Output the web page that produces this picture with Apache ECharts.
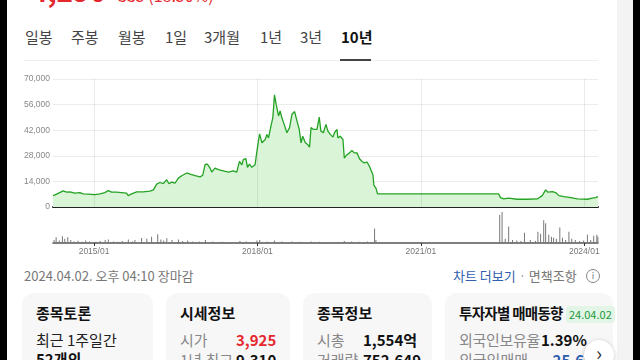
<!DOCTYPE html>
<html><head><meta charset="utf-8">
<script src="https://cdn.jsdelivr.net/npm/echarts@6/dist/echarts.min.js"></script>
<style>
html,body{margin:0;padding:0;width:640px;height:360px;overflow:hidden;background:#000;font-family:"Noto Sans CJK KR","Noto Sans",sans-serif;}
.abs{position:absolute;white-space:nowrap;}
#panel{position:absolute;left:7px;top:0;width:610px;height:360px;background:#fff;}
#strip{position:absolute;left:617px;top:0;width:16px;height:360px;background:#f3f3f3;}
.tab{position:absolute;top:27px;font-size:15px;line-height:20px;color:#444;}
.card{position:absolute;top:293px;height:90px;background:#f7f7f8;border-radius:12px;}
.ttl{font-size:15px;font-weight:700;color:#111;line-height:20px;}
.t{font-size:15px;line-height:20px;}
.g{color:#888;}
.b{font-weight:700;color:#111;}
#chart{position:absolute;left:0;top:0;width:640px;height:265px;}
</style></head>
<body>
<div id="panel"></div>
<div id="strip"></div>
<div class="abs" style="left:31px;top:-24px;font-size:28px;line-height:28px;font-weight:700;color:#e5282e;">4,290</div>
<div class="abs" style="left:118px;top:-15px;font-size:16px;line-height:20px;color:#e5282e;">335 (18.50%)</div>

<div class="tab" style="left:25px">일봉</div>
<div class="tab" style="left:71px">주봉</div>
<div class="tab" style="left:118px">월봉</div>
<div class="tab" style="left:165px">1일</div>
<div class="tab" style="left:204px">3개월</div>
<div class="tab" style="left:260px">1년</div>
<div class="tab" style="left:300px">3년</div>
<div class="tab" style="left:341px;color:#111;font-weight:700;">10년</div>
<div class="abs" style="left:24px;top:60px;width:574px;height:1px;background:#eeeeee;"></div>
<div class="abs" style="left:340px;top:59px;width:31px;height:2px;background:#444;"></div>

<div id="chart"></div>

<div class="abs" style="left:24px;top:267px;font-size:13px;line-height:18px;color:#777;">2024.04.02. 오후 04:10 장마감</div>
<div class="abs" style="left:453px;top:267px;font-size:13px;line-height:18px;color:#2f5fae;">차트 더보기 <span style="color:#999">·</span> <span style="color:#777">면책조항</span></div>
<div class="abs" style="left:586px;top:269px;width:12px;height:12px;border:1px solid #888;border-radius:50%;font-size:9px;line-height:12px;text-align:center;color:#777;">i</div>

<div class="card" style="left:22px;width:131px;"></div>
<div class="card" style="left:166px;width:124px;"></div>
<div class="card" style="left:303px;width:129px;"></div>
<div class="card" style="left:445px;width:168px;"></div>

<div class="abs ttl" style="left:36px;top:303px;">종목토론</div>
<div class="abs t" style="left:36px;top:330px;color:#222;">최근 1주일간</div>
<div class="abs t b" style="left:36px;top:349px;">52개의</div>

<div class="abs ttl" style="left:180px;top:303px;">시세정보</div>
<div class="abs t g" style="left:180px;top:330px;">시가</div>
<div class="abs t" style="left:236px;top:330px;font-weight:700;color:#e5282e;">3,925</div>
<div class="abs t g" style="left:180px;top:350px;">1년 최고</div>
<div class="abs t b" style="left:236px;top:350px;">9,310</div>

<div class="abs ttl" style="left:317px;top:303px;">종목정보</div>
<div class="abs t g" style="left:317px;top:330px;">시총</div>
<div class="abs t b" style="left:363px;top:330px;">1,554억</div>
<div class="abs t g" style="left:317px;top:350px;">거래량</div>
<div class="abs t b" style="left:363px;top:350px;">752,649</div>

<div class="abs ttl" style="left:459px;top:303px;font-size:14.5px;letter-spacing:-0.7px;">투자자별 매매동향</div>
<div class="abs" style="left:566px;top:306px;padding:0 3px;height:17px;font-size:11px;line-height:17px;color:#1b9a3a;background:#e3f5e6;border-radius:4px;">24.04.02</div>
<div class="abs t g" style="left:459px;top:330px;letter-spacing:-0.3px;">외국인보유율</div>
<div class="abs t b" style="left:541px;top:330px;">1.39%</div>
<div class="abs t g" style="left:459px;top:350px;">외국인매매</div>
<div class="abs t" style="left:547px;top:350px;font-weight:700;color:#2f5fae;">-25,661</div>
<div class="abs" style="left:584px;top:340px;width:30px;height:30px;border-radius:50%;background:#fff;box-shadow:0 1px 4px rgba(0,0,0,0.25);font-size:20px;line-height:26px;text-align:center;color:#333;">›</div>

<script>
const priceDates = [
'2014-04-01','2014-04-15','2014-06-08','2014-07-01','2014-07-23','2014-08-26','2014-09-28','2014-10-20','2014-11-23',
'2015-01-07','2015-02-10','2015-03-15','2015-04-06','2015-04-29','2015-06-01','2015-07-04','2015-08-07','2015-08-18','2015-09-10','2015-10-14','2015-11-27',
'2016-01-11','2016-02-03','2016-02-25','2016-03-18','2016-04-09','2016-05-02','2016-05-17','2016-06-05','2016-06-27','2016-07-19','2016-08-11','2016-09-14','2016-10-06','2016-11-09','2016-12-12','2016-12-30',
'2017-01-15','2017-01-30','2017-02-17','2017-02-28','2017-03-22','2017-04-14','2017-05-17','2017-06-20','2017-07-23','2017-08-15','2017-09-02','2017-09-18','2017-09-28','2017-10-15','2017-10-26','2017-11-08','2017-11-24','2017-12-16','2017-12-28',
'2018-01-15','2018-01-31','2018-02-22','2018-03-05','2018-03-16','2018-04-01','2018-04-14','2018-04-25','2018-05-06','2018-05-22','2018-06-02','2018-06-13','2018-06-29','2018-07-17','2018-08-04','2018-08-20','2018-09-07','2018-09-23','2018-10-08','2018-10-20','2018-10-31','2018-11-18','2018-12-03','2018-12-16','2018-12-26',
'2019-01-12','2019-02-04','2019-02-19','2019-03-02','2019-03-19','2019-04-05','2019-04-18','2019-05-04','2019-05-22','2019-06-01','2019-06-18','2019-06-24','2019-07-10','2019-07-28','2019-08-06','2019-08-24','2019-09-10','2019-09-26','2019-10-12','2019-10-30','2019-11-16','2019-12-02','2019-12-17',
'2020-01-05','2020-01-22','2020-02-03','2020-02-14','2020-02-20','2020-03-05','2020-03-16',
'2022-06-06','2022-06-18','2022-07-10','2022-08-12','2022-10-08','2022-12-14',
'2023-02-20','2023-03-25','2023-04-17','2023-05-02','2023-06-01','2023-06-23','2023-07-15','2023-08-18','2023-10-02','2023-11-16',
'2024-01-22','2024-02-24','2024-03-17','2024-04-02'];
const priceValues = [
6230,6600,8800,8100,8260,7550,7900,7160,7000,
6780,7160,7880,9000,8100,8100,7900,7550,6230,7160,8260,8260,
8650,9370,12500,13400,12800,14900,12700,13600,13000,15800,17100,18600,18000,17100,16500,17400,
23300,23500,21300,19100,21300,20400,19800,19100,19800,19100,25000,23100,25900,26400,21700,23500,21700,23100,30500,
40000,35100,36900,39700,37800,44200,48900,61300,56200,49800,52500,48900,45200,40600,43400,50700,52200,47000,42400,35100,38700,35100,34200,32700,43400,
42400,42400,49200,41500,40600,45200,41500,39700,38200,40600,42400,37800,38700,36900,26800,28600,29600,30900,29600,29600,26400,25000,24100,
24600,22200,22200,17600,12000,10300,7160,
7160,5130,4400,4800,4240,4240,
4400,6230,9370,8100,8430,7880,6230,5680,5130,4400,
4240,4800,5130,5680];

const volumeDates = [
'2014-04-08','2014-04-22','2014-05-13','2014-06-03','2014-06-19','2014-07-09','2014-07-29','2014-08-20','2014-09-16','2014-10-14','2014-11-06','2014-12-02',
'2015-01-13','2015-02-11','2015-03-17','2015-04-07','2015-05-12','2015-06-10','2015-07-09','2015-08-19','2015-09-16','2015-10-02','2015-11-16','2015-12-21',
'2016-01-22','2016-03-03','2016-03-24','2016-04-12','2016-05-03','2016-06-07','2016-07-20','2016-08-17','2016-09-20','2016-10-25','2016-12-07',
'2017-01-17','2017-03-08','2017-05-10','2017-07-12','2017-09-05','2017-10-17','2017-12-28',
'2018-01-16','2018-03-06','2018-04-25','2018-06-14','2018-08-21','2018-10-16','2018-12-27',
'2019-02-20','2019-04-10','2019-06-19','2019-08-06','2019-09-25','2019-11-13',
'2020-01-08','2020-02-25','2020-03-05',
'2022-06-13','2022-06-29','2022-07-20','2022-08-12','2022-09-07','2022-10-05','2022-11-02','2022-11-26',
'2023-01-04','2023-02-08','2023-02-24','2023-03-14','2023-04-04','2023-04-17','2023-05-08','2023-05-26','2023-06-09','2023-06-28','2023-07-21','2023-08-08','2023-08-29','2023-09-20','2023-10-09','2023-11-02','2023-12-01','2023-12-28',
'2024-01-22','2024-02-13','2024-03-04','2024-03-25','2024-04-01'];
const volumeValues = [
300000,550000,250000,650000,420000,550000,300000,150000,220000,120000,250000,150000,
120000,200000,300000,350000,150000,120000,200000,350000,150000,300000,480000,400000,
600000,840000,350000,250000,450000,300000,350000,200000,250000,150000,150000,
300000,150000,120000,100000,200000,150000,250000,
300000,150000,250000,150000,150000,120000,150000,
120000,100000,100000,200000,150000,120000,
150000,1400000,300000,
2700000,3000000,400000,1600000,300000,250000,200000,1000000,
300000,200000,1100000,900000,2200000,1900000,800000,600000,500000,400000,1500000,500000,300000,1100000,400000,300000,200000,250000,
800000,300000,700000,800000,600000];

const xTickDates = ['2015-01-01','2018-01-01','2021-01-01','2024-01-01'];
const xStart = '2014-04-01', xEnd = '2024-04-02';
const yMin = 0, yMax = 70000, yStep = 14000;

function ts(s){ return new Date(s + 'T00:00:00').getTime(); }
const tickTs = xTickDates.map(ts);
const fmtDate = v => { const d = new Date(v); return d.getFullYear() + '/' + String(d.getMonth()+1).padStart(2,'0'); };

const chart = echarts.init(document.getElementById('chart'), null, {renderer:'canvas'});
chart.setOption({
  animation:false,
  backgroundColor:'transparent',
  grid:[{left:53,right:42,top:79,height:128},{left:53,right:42,top:212,height:31}],
  xAxis:[
    {type:'value',gridIndex:0,min:ts(xStart),max:ts(xEnd),
     axisLine:{lineStyle:{color:'#222',width:2}},axisTick:{show:false},axisLabel:{show:false},splitLine:{show:false}},
    {type:'value',gridIndex:1,min:ts(xStart),max:ts(xEnd),
     axisLine:{lineStyle:{color:'#555',width:1.5}},
     axisTick:{show:true,customValues:tickTs,length:3,lineStyle:{color:'#333'}},
     axisLabel:{customValues:tickTs,formatter:fmtDate,color:'#777',fontSize:8.5,fontFamily:'Liberation Sans, Arial',margin:4},
     splitLine:{show:false}}
  ],
  yAxis:[
    {type:'value',gridIndex:0,min:yMin,max:yMax,interval:yStep,
     axisLine:{show:false},axisTick:{show:false},
     axisLabel:{formatter:v=>v.toLocaleString('en-US'),color:'#888',fontSize:8.5,fontFamily:'Liberation Sans, Arial',margin:3},
     splitLine:{lineStyle:{color:'#ececec',width:1}}},
    {type:'value',gridIndex:1,min:0,max:'dataMax',show:false,splitLine:{show:false}}
  ],
  series:[
    {type:'line',xAxisIndex:0,yAxisIndex:0,showSymbol:false,
     data:priceDates.map((d,i)=>[ts(d),priceValues[i]]),
     lineStyle:{color:'#25a325',width:1.3},
     areaStyle:{color:'#daf4d7',opacity:1},
     markLine:{silent:true,symbol:'none',label:{show:false},
       lineStyle:{color:'rgba(0,0,0,0.08)',type:'solid',width:1},
       data:tickTs.map(t=>({xAxis:t}))}},
    {type:'bar',xAxisIndex:1,yAxisIndex:1,barWidth:1,
     data:volumeDates.map((d,i)=>[ts(d),volumeValues[i]]),
     itemStyle:{color:'#777'}}
  ]
});
</script>
</body></html>
